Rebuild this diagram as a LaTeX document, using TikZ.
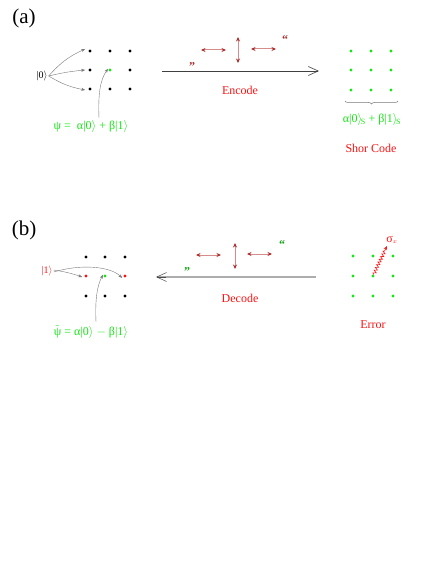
\documentclass[tikz,border=0pt]{standalone}
\usepackage{fontspec}
\setmainfont{Liberation Serif}
\usetikzlibrary{arrows.meta,decorations.pathmorphing,decorations.pathreplacing}
\definecolor{qgreen}{RGB}{20,230,20}
\definecolor{qred}{RGB}{250,20,20}
\definecolor{darr}{RGB}{170,45,45}
\definecolor{darrl}{RGB}{215,140,140}
\definecolor{qgray}{RGB}{120,120,120}
\begin{document}
\begin{tikzpicture}[x=1pt,y=-1pt,
  dot/.style={circle,fill=black,inner sep=0pt,minimum size=3.2pt},
  gdot/.style={dot,fill=qgreen},
  rdot/.style={dot,fill=qred},
  lbl/.style={font=\fontsize{21}{23}\selectfont,inner sep=0pt},
  redtxt/.style={text=qred,font=\fontsize{12}{14}\selectfont,inner sep=1pt},
  grntxt/.style={text=qgreen,font=\fontsize{12}{14}\selectfont,inner sep=1pt},
  ket/.style={font=\fontsize{10}{12}\selectfont,inner sep=1pt},
  feed/.style={qgray,-{Stealth[length=4pt,width=3pt]},line width=0.4pt},
  dbl/.style={darrl,{Stealth[length=4.5pt,width=4pt,color=darr]}-{Stealth[length=4.5pt,width=4pt,color=darr]},line width=1pt},
  bigarr/.style={line width=0.6pt,-{Straight Barb[length=10pt,width=9pt]}},
  quote/.style={font=\bfseries\fontsize{12}{13}\selectfont,inner sep=0pt}
]
\useasboundingbox (0,0) rectangle (436,564);

% ---------- (a) ----------
\node[lbl] (la) at (24,18) {(a)};
\foreach \c [count=\i] in {90,110,130}{
  \foreach \r [count=\j] in {51,70,89}{
    \ifnum\i=2 \ifnum\j=2 \node[gdot] (a\i\j) at (\c,\r) {}; \else \node[dot] (a\i\j) at (\c,\r) {}; \fi
    \else \node[dot] (a\i\j) at (\c,\r) {}; \fi
  }
}
\node[ket] (k0) at (42,76) {|0$\rangle$};
\draw[feed] (k0.east) to[bend left=12] ([xshift=-3pt,yshift=2pt]a11.west);
\draw[feed] (k0.east) to[bend left=4] ([xshift=-3pt]a12.west);
\draw[feed] (k0.east) to[bend right=10] ([xshift=-3pt,yshift=-1pt]a13.west);
\node[grntxt] (psi) at (91,127) {ψ\ =\ \ α|0$\rangle$ + β|1$\rangle$};
\coordinate (psitop) at (99,118);
\draw[feed] (psitop) .. controls (98,95) and (100,80) .. ([xshift=-2pt,yshift=3pt]a22.south);

\coordinate (encS) at (162,71);
\coordinate (encE) at (319,71);
\draw[bigarr,black!75] (encS) -- (encE);
\node[redtxt] (enc) at (240,90) {Encode};
\coordinate (h1a) at (201,50); \coordinate (h1b) at (226,50);
\coordinate (v1a) at (238,37); \coordinate (v1b) at (238,63);
\coordinate (h2a) at (251,49); \coordinate (h2b) at (276,49);
\draw[dbl] (h1a) -- (h1b);
\draw[dbl] (v1a) -- (v1b);
\draw[dbl] (h2a) -- (h2b);
\node[quote,text=darr] (qa1) at (285,40) {“};
\node[quote,text=darr] (qa2) at (192,67) {”};

\foreach \c [count=\i] in {351,371,391}{
  \foreach \r [count=\j] in {51,70,90}{
    \node[gdot] (s\i\j) at (\c,\r) {};
  }
}
\coordinate (brL) at (345,101);
\coordinate (brR) at (398,101);
\draw[qgray,line width=0.5pt,decorate,decoration={brace,mirror,amplitude=3pt}] (brL) -- (brR);
\node[grntxt] (shorst) at (372,120) {α|0$\rangle_{\!\mathrm{S}}$ + β|1$\rangle_{\!\mathrm{S}}$};
\node[redtxt] (shor) at (371,148) {Shor Code};

% ---------- (b) ----------
\node[lbl] (lb) at (24,230) {(b)};
\foreach \c [count=\i] in {86,105,125}{
  \foreach \r [count=\j] in {257,276,296}{
    \ifnum\j=2
      \ifnum\i=2 \node[gdot] (b\i\j) at (\c,\r) {}; \else \node[rdot] (b\i\j) at (\c,\r) {}; \fi
    \else \node[dot] (b\i\j) at (\c,\r) {}; \fi
  }
}
\node[ket,text=qred] (k1) at (47,271) {|1$\rangle$};
\draw[feed] ([yshift=1pt]k1.east) to[bend left=5] ([xshift=-2pt,yshift=-1pt]b12.west);
\draw[feed] ([yshift=-1pt]k1.east) .. controls (80,264) and (110,266) .. ([xshift=-1pt,yshift=-2pt]b32.west);
\node[grntxt] (psit) at (91,332) {$\tilde{\hbox{ψ}}$ = α|0$\rangle$ $-$ β|1$\rangle$};
\coordinate (psittop) at (96,322);
\draw[feed] (psittop) .. controls (95,300) and (97,286) .. ([xshift=-2pt,yshift=3pt]b22.south);

\coordinate (decS) at (316,277);
\coordinate (decE) at (156,277);
\draw[black!32,line width=1.4pt] (decS) -- ([xshift=1pt]decE);
\draw[black!70,line width=0.5pt,-{Straight Barb[length=10pt,width=9pt]}] ([xshift=10pt]decE) -- (decE);
\node[redtxt] (dec) at (240,298) {Decode};
\coordinate (h3a) at (196,255); \coordinate (h3b) at (221,255);
\coordinate (v2a) at (235,243); \coordinate (v2b) at (235,269);
\coordinate (h4a) at (247,254); \coordinate (h4b) at (272,254);
\draw[dbl] (h3a) -- (h3b);
\draw[dbl] (v2a) -- (v2b);
\draw[dbl] (h4a) -- (h4b);
\node[quote,text=qgreen!70!black] (qb1) at (282,245) {“};
\node[quote,text=qgreen!70!black] (qb2) at (187,272) {”};

\foreach \c [count=\i] in {353,373,393}{
  \foreach \r [count=\j] in {256,276,296}{
    \node[gdot] (e\i\j) at (\c,\r) {};
  }
}
\coordinate (wtip) at (387,246);
\draw[qred,line width=0.6pt,decorate,decoration={snake,amplitude=1.5pt,segment length=3pt,post length=4pt},-{Stealth[length=4pt,width=3.5pt]}] (e22) -- (wtip);
\node[text=qred,font=\fontsize{12}{13}\selectfont,inner sep=0pt] (sig) at (392,240) {σ$_{\scriptscriptstyle x}$};
\node[redtxt] (err) at (373,325) {Error};
\end{tikzpicture}
\end{document}
